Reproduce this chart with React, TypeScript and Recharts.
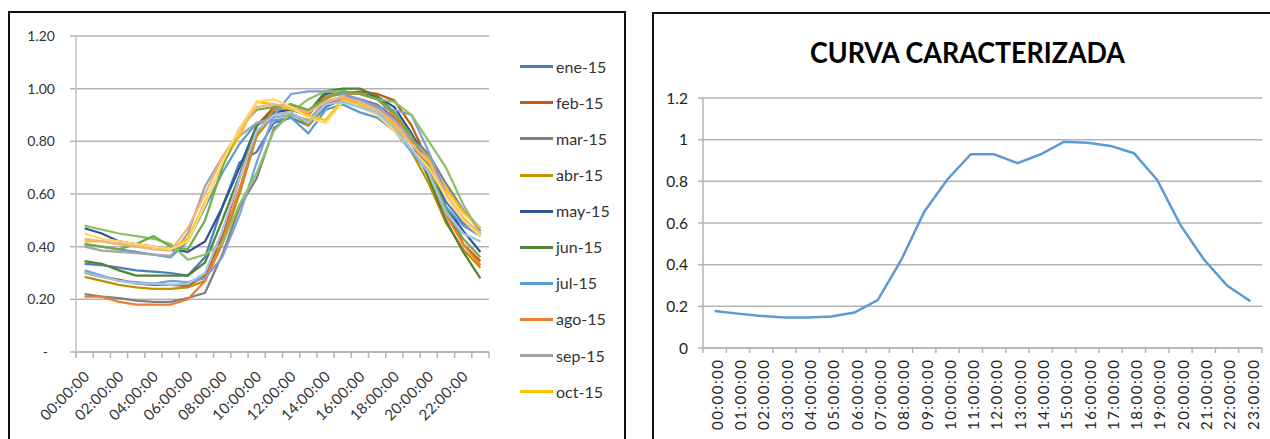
import { LineChart, Line, XAxis, YAxis, CartesianGrid } from 'recharts';

// horas del día (etiquetas de categoría)
const hours = [
  '00:00:00', '01:00:00', '02:00:00', '03:00:00', '04:00:00', '05:00:00',
  '06:00:00', '07:00:00', '08:00:00', '09:00:00', '10:00:00', '11:00:00',
  '12:00:00', '13:00:00', '14:00:00', '15:00:00', '16:00:00', '17:00:00',
  '18:00:00', '19:00:00', '20:00:00', '21:00:00', '22:00:00', '23:00:00'
];

const months = [
  'ene-15', 'feb-15', 'mar-15', 'abr-15', 'may-15', 'jun-15', 'jul-15', 'ago-15',
  'sep-15', 'oct-15', 'nov-15', 'dic-15', 'ene-16', 'feb-16', 'mar-16', 'abr-16'
];

const monthColors = [
  '#4A7EBB', '#C55A11', '#7F7F7F', '#BF9000', '#2F5597', '#548235', '#5B9BD5', '#ED7D31',
  '#A5A5A5', '#FFC000', '#7F9FDA', '#8CC168', '#70AD47', '#F4B183', '#FFD966', '#9DC3E6'
];

// curvas mensuales normalizadas
const ene15 = [0.335, 0.33, 0.32, 0.31, 0.305, 0.30, 0.29, 0.36, 0.55, 0.72, 0.76, 0.87, 0.89, 0.86, 0.93, 0.96, 0.95, 0.93, 0.87, 0.79, 0.70, 0.57, 0.49, 0.45];
const feb15 = [0.30, 0.285, 0.275, 0.26, 0.255, 0.255, 0.25, 0.29, 0.44, 0.66, 0.86, 0.93, 0.94, 0.91, 0.97, 0.98, 0.99, 0.98, 0.955, 0.86, 0.72, 0.54, 0.41, 0.345];
const mar15 = [0.22, 0.21, 0.205, 0.195, 0.19, 0.19, 0.205, 0.225, 0.37, 0.55, 0.66, 0.85, 0.90, 0.88, 0.95, 0.97, 0.96, 0.94, 0.89, 0.82, 0.75, 0.64, 0.54, 0.46];
const abr15 = [0.285, 0.27, 0.255, 0.245, 0.24, 0.24, 0.245, 0.27, 0.41, 0.60, 0.82, 0.90, 0.91, 0.86, 0.94, 0.96, 0.95, 0.92, 0.86, 0.76, 0.64, 0.49, 0.39, 0.32];
const may15 = [0.47, 0.45, 0.42, 0.41, 0.40, 0.39, 0.38, 0.42, 0.55, 0.70, 0.86, 0.91, 0.92, 0.90, 0.98, 0.99, 0.98, 0.97, 0.93, 0.83, 0.71, 0.55, 0.46, 0.38];
const jun15 = [0.345, 0.335, 0.31, 0.29, 0.29, 0.29, 0.29, 0.34, 0.50, 0.67, 0.86, 0.92, 0.93, 0.91, 0.99, 1.00, 1.00, 0.97, 0.91, 0.80, 0.66, 0.50, 0.38, 0.28];
const jul15 = [0.41, 0.40, 0.39, 0.38, 0.37, 0.36, 0.42, 0.55, 0.68, 0.79, 0.87, 0.88, 0.89, 0.83, 0.92, 0.94, 0.91, 0.89, 0.84, 0.76, 0.68, 0.55, 0.48, 0.44];
const ago15 = [0.21, 0.21, 0.19, 0.18, 0.18, 0.18, 0.20, 0.27, 0.42, 0.62, 0.83, 0.92, 0.93, 0.90, 0.97, 0.98, 0.98, 0.96, 0.90, 0.80, 0.68, 0.52, 0.41, 0.33];
const sep15 = [0.40, 0.385, 0.38, 0.375, 0.37, 0.365, 0.45, 0.63, 0.74, 0.82, 0.87, 0.89, 0.90, 0.88, 0.95, 0.96, 0.95, 0.93, 0.88, 0.81, 0.74, 0.62, 0.54, 0.47];
const oct15 = [0.42, 0.42, 0.41, 0.40, 0.40, 0.39, 0.43, 0.57, 0.71, 0.82, 0.95, 0.94, 0.92, 0.90, 0.88, 0.96, 0.94, 0.91, 0.86, 0.79, 0.73, 0.62, 0.53, 0.47];
const nov15 = [0.31, 0.29, 0.27, 0.265, 0.26, 0.27, 0.265, 0.28, 0.36, 0.52, 0.72, 0.90, 0.98, 0.99, 0.99, 0.98, 0.96, 0.93, 0.92, 0.90, 0.76, 0.60, 0.50, 0.44];
const dic15 = [0.48, 0.465, 0.45, 0.44, 0.43, 0.41, 0.35, 0.37, 0.41, 0.56, 0.68, 0.84, 0.91, 0.96, 0.99, 0.99, 0.98, 0.96, 0.95, 0.90, 0.80, 0.70, 0.56, 0.45];
const ene16 = [0.41, 0.40, 0.39, 0.41, 0.44, 0.40, 0.39, 0.50, 0.70, 0.85, 0.92, 0.93, 0.94, 0.92, 0.96, 0.99, 0.98, 0.96, 0.91, 0.82, 0.70, 0.54, 0.43, 0.36];
const feb16 = [0.43, 0.42, 0.41, 0.40, 0.39, 0.385, 0.47, 0.60, 0.74, 0.84, 0.93, 0.94, 0.93, 0.91, 0.95, 0.97, 0.95, 0.92, 0.87, 0.79, 0.72, 0.60, 0.51, 0.45];
const mar16 = [0.45, 0.43, 0.42, 0.41, 0.40, 0.39, 0.42, 0.56, 0.72, 0.85, 0.95, 0.96, 0.93, 0.89, 0.87, 0.95, 0.93, 0.90, 0.84, 0.77, 0.70, 0.59, 0.50, 0.44];
const abr16 = [0.30, 0.285, 0.27, 0.26, 0.26, 0.255, 0.26, 0.30, 0.46, 0.66, 0.84, 0.90, 0.91, 0.87, 0.94, 0.95, 0.93, 0.91, 0.85, 0.77, 0.68, 0.53, 0.45, 0.42];

const monthValues = [ene15, feb15, mar15, abr15, may15, jun15, jul15, ago15, sep15, oct15, nov15, dic15, ene16, feb16, mar16, abr16];

// la leyenda del gráfico original solo alcanza a mostrar 10 entradas
const legendCount = 10;

const leftTicks = [0, 0.2, 0.4, 0.6, 0.8, 1.0, 1.2];

// curva caracterizada
const curva = [0.178, 0.165, 0.154, 0.147, 0.147, 0.151, 0.17, 0.23, 0.42, 0.654, 0.81, 0.93, 0.93, 0.887, 0.93, 0.99, 0.985, 0.97, 0.935, 0.807, 0.59, 0.426, 0.30, 0.224];
const rightTicks = [0, 0.2, 0.4, 0.6, 0.8, 1, 1.2];

const FONT = "Lato, 'Open Sans', sans-serif";
const LEFT_STEP = 413 / 24;
const RIGHT_STEP = 559 / 24;

const boundaryTicks = hours.map((_, i) => i).concat(hours.length);

const monthlyData = hours.map((h, i) => {
  const row: any = { x: i + 0.5, hour: h };
  months.forEach((m, k) => {
    row[m] = monthValues[k][i];
  });
  return row;
});

const curvaData = hours.map((h, i) => ({ x: i + 0.5, hour: h, value: curva[i] }));

function LeftHourTick({ x, y, payload }: any) {
  const i = payload.value;
  if (i % 2 !== 0 || i >= hours.length) return <g />;
  const ax = x + LEFT_STEP / 2 + 2;
  const ay = y + 16;
  return (
    <text
      x={ax}
      y={ay}
      dy="0.35em"
      textAnchor="end"
      transform={`rotate(-45, ${ax}, ${ay})`}
      fontSize={15}
      fontFamily={FONT}
      fill="#333"
      textLength={62}
      lengthAdjust="spacing"
    >
      {hours[i]}
    </text>
  );
}

function RightHourTick({ x, y, payload }: any) {
  const i = payload.value;
  if (i >= hours.length) return <g />;
  const ax = x + RIGHT_STEP / 2 + 3;
  const ay = y + 7;
  return (
    <text
      x={ax}
      y={ay}
      dy="0.35em"
      textAnchor="end"
      transform={`rotate(-90, ${ax}, ${ay})`}
      fontSize={15}
      fontFamily={FONT}
      fill="#222"
      textLength={70}
      lengthAdjust="spacing"
    >
      {hours[i]}
    </text>
  );
}

export default function App() {
  return (
    <div style={{ position: 'absolute', left: 0, top: 0, width: 1270, height: 439, overflow: 'hidden', background: '#fff' }}>
      {/* Curvas mensuales */}
      <div style={{ position: 'absolute', left: 8, top: 11, width: 618, height: 460, border: '2px solid #111', boxSizing: 'border-box' }} />
      <div style={{ position: 'absolute', left: 9, top: 12 }}>
        <LineChart width={617} height={427} data={monthlyData} margin={{ top: 24, right: 137, bottom: 0, left: 0 }}>
          <CartesianGrid vertical={false} stroke="#B3B3B3" strokeWidth={1.5} />
          <XAxis
            dataKey="x"
            type="number"
            domain={[0, 24]}
            ticks={boundaryTicks}
            interval={0}
            height={87}
            tickSize={6}
            tickMargin={0}
            axisLine={{ stroke: '#B3B3B3', strokeWidth: 1.5 }}
            tickLine={{ stroke: '#B3B3B3', strokeWidth: 1.5 }}
            tick={<LeftHourTick />}
          />
          <YAxis
            type="number"
            domain={[0, 1.2]}
            ticks={leftTicks}
            width={67}
            tickSize={6}
            tickMargin={15}
            axisLine={{ stroke: '#CFCFCF', strokeWidth: 2 }}
            tickLine={{ stroke: '#B3B3B3', strokeWidth: 1.5 }}
            tick={{ fontSize: 14, fontFamily: FONT, fill: '#333' }}
            tickFormatter={(v: number) => (v === 0 ? '-\u00A0\u00A0' : v.toFixed(2))}
          />
          {months.map((m, k) => (
            <Line
              key={m}
              dataKey={m}
              stroke={monthColors[k]}
              strokeWidth={2.25}
              dot={false}
              isAnimationActive={false}
            />
          ))}
        </LineChart>
      </div>
      {/* leyenda */}
      {months.slice(0, legendCount).map((m, k) => (
        <div
          key={m}
          style={{ position: 'absolute', left: 520, top: 66.7 + k * 36.1 - 10, height: 20, display: 'flex', alignItems: 'center' }}
        >
          <div style={{ width: 33, height: 3, background: monthColors[k] }} />
          <span style={{ marginLeft: 3, fontSize: 16, fontFamily: FONT, color: '#333', lineHeight: '20px' }}>{m}</span>
        </div>
      ))}

      {/* Curva caracterizada */}
      <div style={{ position: 'absolute', left: 652, top: 12, width: 660, height: 460, border: '2px solid #111', boxSizing: 'border-box' }} />
      <svg style={{ position: 'absolute', left: 653, top: 13 }} width={617} height={70}>
        <text
          x={314.5}
          y={39.5}
          dy="0.36em"
          textAnchor="middle"
          fontSize={29}
          fontWeight={700}
          fontFamily={FONT}
          fill="#000"
          textLength={315}
          lengthAdjust="spacingAndGlyphs"
        >
          CURVA CARACTERIZADA
        </text>
      </svg>
      <div style={{ position: 'absolute', left: 653, top: 13 }}>
        <LineChart width={617} height={426} data={curvaData} margin={{ top: 85, right: 8, bottom: 0, left: 0 }}>
          <CartesianGrid vertical={false} stroke="#B3B3B3" strokeWidth={1.5} />
          <XAxis
            dataKey="x"
            type="number"
            domain={[0, 24]}
            ticks={boundaryTicks}
            interval={0}
            height={91}
            tickSize={5}
            tickMargin={0}
            axisLine={{ stroke: '#B3B3B3', strokeWidth: 1.5 }}
            tickLine={{ stroke: '#B3B3B3', strokeWidth: 1.5 }}
            tick={<RightHourTick />}
          />
          <YAxis
            type="number"
            domain={[0, 1.2]}
            ticks={rightTicks}
            width={50}
            tickSize={5}
            tickMargin={10}
            axisLine={{ stroke: '#B3B3B3', strokeWidth: 1.5 }}
            tickLine={{ stroke: '#B3B3B3', strokeWidth: 1.5 }}
            tick={{ fontSize: 15.5, fontFamily: FONT, fill: '#222' }}
            tickFormatter={(v: number) => String(parseFloat(v.toFixed(1)))}
          />
          <Line dataKey="value" stroke="#5B9BD5" strokeWidth={2.5} dot={false} isAnimationActive={false} />
        </LineChart>
      </div>
    </div>
  );
}
